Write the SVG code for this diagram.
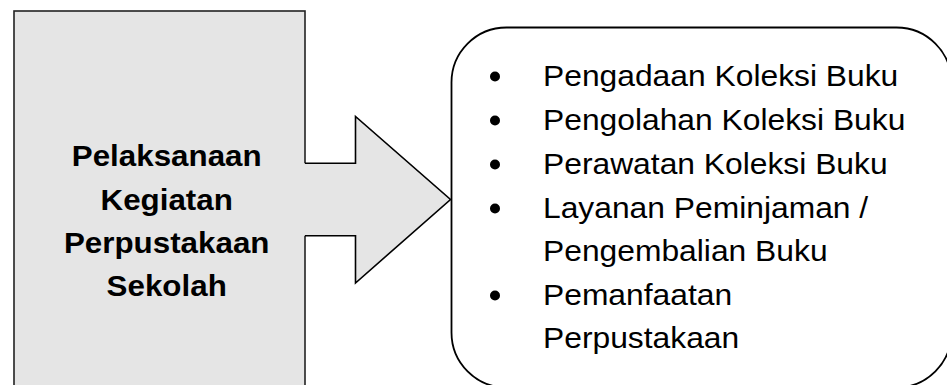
<svg xmlns="http://www.w3.org/2000/svg" width="947" height="385" viewBox="0 0 947 385">
<style>
.bold{font-family:"Liberation Sans",Arial,sans-serif;font-weight:bold;font-size:30px;fill:#000;text-anchor:middle}
.reg{font-family:"Liberation Sans",Arial,sans-serif;font-size:30px;fill:#000}
.bul{fill:#000}
</style>
<rect width="947" height="385" fill="#fff"/>
<g id="source">
<rect x="14" y="11" width="291" height="390" fill="#e5e5e5" stroke="#222" stroke-width="1.6"/>
<g transform="translate(166.7,0) scale(1.045,1)">
<text class="bold" x="0" y="166.5">Pelaksanaan</text>
<text class="bold" x="0" y="209.8">Kegiatan</text>
<text class="bold" x="0" y="253">Perpustakaan</text>
<text class="bold" x="0" y="296.3">Sekolah</text>
</g>
</g>
<g id="connectors">
<polygon points="303,163.3 355.5,163.3 355.5,116.5 450.5,199.5 355.5,283 355.5,235.7 303,235.7" fill="#e5e5e5"/>
<polyline points="305,163.3 355.5,163.3 355.5,116.5 450.5,199.5 355.5,283 355.5,235.7 305,235.7" fill="none" stroke="#000" stroke-width="1.6" stroke-linejoin="miter"/>
</g>
<g id="activities">
<rect x="451.5" y="27.5" width="500" height="360" rx="55" ry="55" fill="none" stroke="#000" stroke-width="1.8"/>
<circle class="bul" cx="495" cy="76.5" r="5"/>
<circle class="bul" cx="495" cy="120.5" r="5"/>
<circle class="bul" cx="495" cy="164.5" r="5"/>
<circle class="bul" cx="495" cy="208.5" r="5"/>
<circle class="bul" cx="495" cy="295.5" r="5"/>
<g transform="translate(543,0) scale(1.06,1)">
<text class="reg" x="0" y="86">Pengadaan Koleksi Buku</text>
<text class="reg" x="0" y="130">Pengolahan Koleksi Buku</text>
<text class="reg" x="0" y="174">Perawatan Koleksi Buku</text>
<text class="reg" x="0" y="218">Layanan Peminjaman /</text>
<text class="reg" x="0" y="261">Pengembalian Buku</text>
<text class="reg" x="0" y="305">Pemanfaatan</text>
<text class="reg" x="0" y="348">Perpustakaan</text>
</g>
</g>
</svg>
